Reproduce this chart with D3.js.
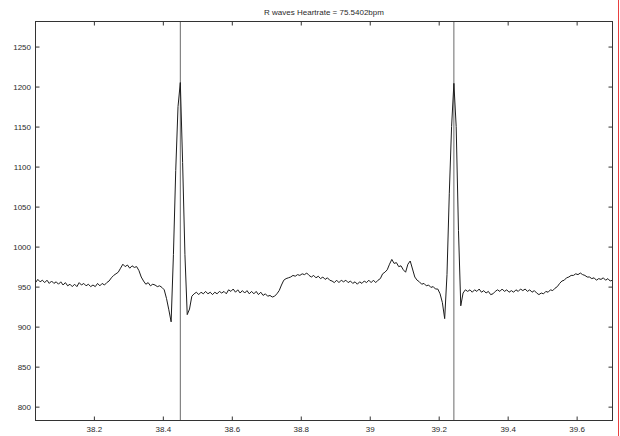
<!DOCTYPE html>
<html>
<head>
<meta charset="utf-8">
<script src="https://cdn.jsdelivr.net/npm/d3@7"></script>
<style>
  html, body { margin: 0; padding: 0; background: #fff; }
  svg { display: block; }
</style>
</head>
<body>
<script>
// ECG lead samples (ADC units), 150 Hz, starting at startTime seconds
const sampleRate = 150;
const startTime = 38.0307;
const ecgValues = [
  955, 959, 956, 958, 955, 958, 954, 957, 954, 956,
  953, 956, 952, 955, 951, 953, 950, 953, 950, 955,
  952, 954, 951, 953, 950, 952, 950, 954, 951, 954,
  952, 955, 957, 961, 964, 966, 968, 973, 978, 975,
  977, 973, 976, 974, 975, 970, 962, 957, 953, 955,
  951, 953, 952, 950, 951, 949, 946, 935, 921, 906,
  990, 1095, 1175, 1205, 1105, 990, 915, 922, 938, 941,
  943, 940, 943, 941, 944, 941, 943, 940, 943, 941,
  944, 942, 944, 941, 946, 944, 947, 943, 946, 942,
  945, 942, 945, 941, 944, 941, 944, 940, 943, 939,
  941, 938, 939, 937, 938, 941, 945, 952, 958, 960,
  961, 962, 964, 963, 965, 964, 966, 965, 967, 964,
  962, 964, 961, 963, 960, 962, 959, 961, 958, 957,
  955, 958, 955, 958, 956, 958, 955, 957, 954, 956,
  953, 956, 954, 957, 955, 958, 955, 958, 955, 958,
  960, 966, 968, 971, 978, 984, 979, 980, 975, 976,
  971, 968, 978, 982, 972, 962, 958, 956, 953, 954,
  951, 952, 949, 950, 947, 947, 941, 930, 910, 965,
  1066, 1150, 1204, 1150, 1020, 926, 942, 946, 944, 946,
  943, 946, 944, 947, 943, 945, 942, 944, 940, 941,
  944, 946, 944, 947, 944, 946, 943, 945, 943, 946,
  944, 947, 945, 947, 944, 946, 943, 945, 942, 940,
  942, 941, 944, 943, 946, 945, 948, 950, 954, 957,
  958, 961, 962, 964, 964, 966, 965, 967, 965, 964,
  962, 962, 960, 961, 958, 960, 959, 961, 958, 960,
  957, 958
];

const xTicks = [38.2, 38.4, 38.6, 38.8, 39, 39.2, 39.4, 39.6];
const yTicks = [800, 850, 900, 950, 1000, 1050, 1100, 1150, 1200, 1250];
const yLimits = [782.7, 1281.3];
const heartRate = "75.5402";
const rThreshold = 1100;

const width = 620, height = 436;
const box = { left: 35.5, right: 612.5, top: 21.5, bottom: 420.5 };
const tickLen = 4;
const font = "'Liberation Sans', Arial, sans-serif";

const samples = ecgValues.map((v, i) => ({ t: startTime + i / sampleRate, v }));

// R waves: local maxima above the detection threshold
const rPeaks = samples.filter((s, i) =>
  s.v > rThreshold &&
  (i === 0 || s.v >= samples[i - 1].v) &&
  (i === samples.length - 1 || s.v >= samples[i + 1].v));

const x = d3.scaleLinear()
  .domain(d3.extent(samples, d => d.t))
  .range([box.left, box.right]);
const y = d3.scaleLinear()
  .domain(yLimits)
  .range([box.bottom, box.top]);

const svg = d3.select("body").append("svg")
  .attr("width", width)
  .attr("height", height)
  .style("font-family", font);

svg.append("rect")
  .attr("width", width).attr("height", height)
  .attr("fill", "#fff");

svg.append("defs").append("clipPath").attr("id", "plot-clip")
  .append("rect")
  .attr("x", box.left).attr("y", box.top)
  .attr("width", box.right - box.left).attr("height", box.bottom - box.top);

const plot = svg.append("g").attr("clip-path", "url(#plot-clip)");

// vertical markers at each detected R wave
plot.selectAll("line.rmark")
  .data(rPeaks)
  .join("line")
  .attr("class", "rmark")
  .attr("x1", d => x(d.t)).attr("x2", d => x(d.t))
  .attr("y1", box.top).attr("y2", box.bottom)
  .attr("stroke", "#6a6a6a")
  .attr("stroke-width", 1);

// ECG trace
plot.append("path")
  .datum(samples)
  .attr("fill", "none")
  .attr("stroke", "#1c1c1c")
  .attr("stroke-width", 1)
  .attr("stroke-linejoin", "round")
  .attr("d", d3.line().x(d => x(d.t)).y(d => y(d.v)));

// axes with inward ticks on all four sides
function styleAxis(g) {
  g.select(".domain").remove();
  g.selectAll(".tick line").attr("stroke", "#333");
  g.selectAll(".tick text")
    .attr("fill", "#2a2a2a")
    .style("font-size", "8px")
    .style("font-family", font);
}

svg.append("g")
  .attr("transform", `translate(0,${box.bottom})`)
  .call(d3.axisBottom(x).tickValues(xTicks).tickSize(-tickLen).tickPadding(6)
    .tickFormat(d => String(d)))
  .call(styleAxis);

svg.append("g")
  .attr("transform", `translate(0,${box.top})`)
  .call(d3.axisTop(x).tickValues(xTicks).tickSize(-tickLen).tickFormat(""))
  .call(styleAxis);

svg.append("g")
  .attr("transform", `translate(${box.left},0)`)
  .call(d3.axisLeft(y).tickValues(yTicks).tickSize(-tickLen).tickPadding(4.5)
    .tickFormat(d => String(d)))
  .call(styleAxis);

svg.append("g")
  .attr("transform", `translate(${box.right},0)`)
  .call(d3.axisRight(y).tickValues(yTicks).tickSize(-tickLen).tickFormat(""))
  .call(styleAxis);

// axes box
svg.append("rect")
  .attr("x", box.left).attr("y", box.top)
  .attr("width", box.right - box.left).attr("height", box.bottom - box.top)
  .attr("fill", "none")
  .attr("stroke", "#333")
  .attr("stroke-width", 1);

// title
svg.append("text")
  .attr("x", (box.left + box.right) / 2)
  .attr("y", 14.5)
  .attr("text-anchor", "middle")
  .attr("fill", "#2a2a2a")
  .style("font-size", "8px")
  .text(`R waves Heartrate = ${heartRate}bpm`);

// page edge rule on the right
svg.append("line")
  .attr("x1", 618.5).attr("x2", 618.5)
  .attr("y1", 0).attr("y2", height)
  .attr("stroke", "#e84040")
  .attr("stroke-width", 1);
</script>
</body>
</html>
